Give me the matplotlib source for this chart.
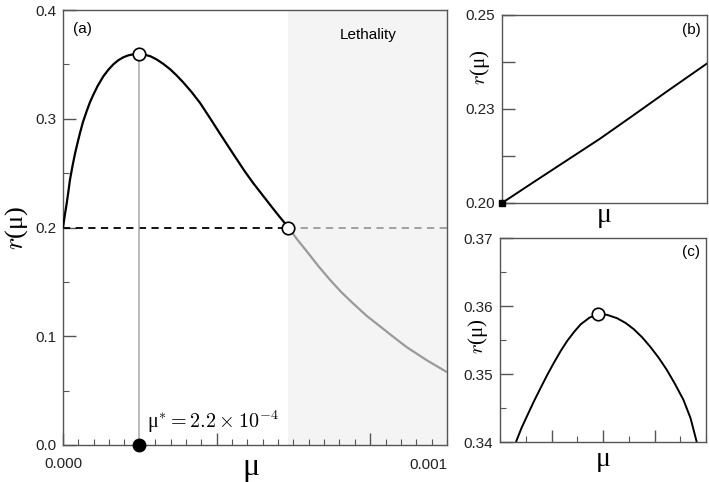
#!/usr/bin/env python3
"""
Growth rate r(mu) against mutation rate mu, with two zoomed insets
(b) near mu = 0 and (c) around the optimum mu*.
"""
import numpy as np
import matplotlib
matplotlib.use("Agg")
import matplotlib.pyplot as plt
from matplotlib.ticker import MultipleLocator

plt.rcParams["font.family"] = ["Liberation Sans", "DejaVu Sans"]
plt.rcParams["mathtext.fontset"] = "cm"

# --- data (mu in units of 1e-6) -------------------------------------------------------------------
# panel (a): viable branch (black) up to the lethality threshold
MU_VIABLE = [0, 2.5, 5, 9.6, 14, 18.2, 25, 31.3, 38, 44.3, 52, 61.7, 70, 78.9, 90, 105, 118,
             131, 144, 157, 170, 184, 198, 212, 228, 244, 261, 279, 296, 313, 335, 357, 383,
             409, 430, 452, 474, 496, 517, 539, 563, 587]
R_VIABLE = [0.200, 0.206, 0.212, 0.222, 0.233, 0.244, 0.257, 0.268, 0.278, 0.287, 0.297, 0.307,
            0.315, 0.322, 0.330, 0.339, 0.345, 0.350, 0.3538, 0.3565, 0.3583, 0.3593, 0.3595,
            0.3590, 0.3574, 0.3545, 0.3505, 0.3455, 0.3398, 0.3335, 0.3245, 0.3145, 0.3005,
            0.2862, 0.2748, 0.2630, 0.2513, 0.2405, 0.2310, 0.2210, 0.2103, 0.200]
# panel (a): branch inside the lethality region (grey)
MU_LETHAL = [587, 610, 635, 665, 695, 725, 756, 790, 826, 860, 895, 947, 1000]
R_LETHAL = [0.200, 0.189, 0.178, 0.1645, 0.152, 0.1405, 0.130, 0.119, 0.109, 0.0995, 0.090,
            0.078, 0.067]

MU_STAR = 198             # optimum
R_STAR = 0.3595
MU_LETHAL_START = 587
R_BASE = 0.2

# panel (b): close-up near mu = 0
MU_B = [0, 2.29, 4.73, 7.17, 9.6, 12.0, 15.0]
R_B = [0.200, 0.2055, 0.2113, 0.2171, 0.2233, 0.2295, 0.2371]

# panel (c): close-up around the optimum
MU_C = [115.5, 121, 126.8, 133, 139.6, 146, 152.5, 159, 165.4, 172, 178.3, 187, 195.4, 204,
        213.7, 222, 229.8, 238, 245.9, 254, 262, 270, 278.1, 285, 291]
R_C = [0.340, 0.3421, 0.3440, 0.3460, 0.3480, 0.3499, 0.3517, 0.3534, 0.3549, 0.3562, 0.3573,
       0.3583, 0.3588, 0.3587, 0.3582, 0.3575, 0.3566, 0.3554, 0.3540, 0.3524, 0.3506, 0.3485,
       0.3462, 0.3435, 0.340]
MU_C_PEAK, R_C_PEAK = 195.4, 0.3588

SCALE = 1e-6

# --- style ---------------------------------------------------------------------------------------
SPINE = "#555555"
GREY = "#9a9a9a"
SHADE = "#f4f4f4"
SERIF = ["Liberation Serif", "DejaVu Serif"]


def mu(vals):
    return np.asarray(vals, dtype=float) * SCALE


def style_axes(ax):
    for s in ax.spines.values():
        s.set_color(SPINE)
        s.set_linewidth(1.0)
    ax.tick_params(which="both", direction="in", colors=SPINE, labelcolor="#222222",
                   labelsize=11, top=False, right=False)
    ax.tick_params(which="major", length=9, width=1.0)
    ax.tick_params(which="minor", length=4, width=0.8)


def ylabel_r(ax, fs):
    ax.set_ylabel("$r$(μ)", fontsize=fs, family=SERIF)


# --- figure --------------------------------------------------------------------------------------
fig = plt.figure(figsize=(7.09, 4.82), dpi=100)
W, H = 709, 482


def px_axes(left, top, right, bottom):
    return fig.add_axes([left / W, 1 - bottom / H, (right - left) / W, (bottom - top) / H])


# panel (a)
ax = px_axes(63, 10, 447, 445)
style_axes(ax)
x_star, x_leth = MU_STAR * SCALE, MU_LETHAL_START * SCALE
ax.axvspan(x_leth, 0.001, color=SHADE, zorder=0, lw=0)
ax.plot([0, x_leth], [R_BASE, R_BASE], color="black", lw=1.3, ls=(0, (4, 3)), zorder=2)
ax.plot([x_leth, 0.001], [R_BASE, R_BASE], color=GREY, lw=1.3, ls=(0, (4, 3)), zorder=2)
ax.plot([x_star, x_star], [0, R_STAR], color="#aaaaaa", lw=1.1, zorder=2)
ax.plot(mu(MU_VIABLE), R_VIABLE, color="black", lw=1.6, zorder=3)
ax.plot(mu(MU_LETHAL), R_LETHAL, color=GREY, lw=1.6, zorder=3)
ax.plot([x_star, x_leth], [R_STAR, R_BASE], ls="none", marker="o", ms=9,
        mfc="white", mec="black", mew=1.2, zorder=5, clip_on=False)
ax.plot([x_star], [0], ls="none", marker="o", ms=9, color="black", zorder=6, clip_on=False)

ax.set_xlim(0, 0.001)
ax.set_ylim(0, 0.4)
ax.set_xticks([0, 0.0004, 0.0008])
ax.set_xticklabels(["0.000", "", ""])
ax.xaxis.set_minor_locator(MultipleLocator(0.00004))
ax.set_yticks([0.0, 0.1, 0.2, 0.3, 0.4])
ax.set_yticklabels(["0.0", "0.1", "0.2", "0.3", "0.4"])
ax.yaxis.set_minor_locator(MultipleLocator(0.05))
ax.tick_params(axis="x", which="both", pad=9)
ax.tick_params(axis="y", which="both", pad=5)
ax.text(0.001, -0.046, "0.001", ha="right", va="center", fontsize=11, color="#222222",
        transform=ax.get_xaxis_transform())
ax.set_xlabel("μ", fontsize=23, family=SERIF)
ax.xaxis.set_label_coords(0.49, -0.018)
ylabel_r(ax, 19)
ax.yaxis.set_label_coords(-0.085, 0.5)
ax.text(0.026, 0.957, "(a)", transform=ax.transAxes, fontsize=11, va="center")
ax.text((x_leth + 0.001) / 2, 0.377, "Lethality", ha="center", va="center", fontsize=11)
ax.text(0.000219, 0.016, "μ$^{*}=2.2\\times10^{-4}$", fontsize=14.5, family=SERIF,
        va="baseline", ha="left")

# panel (b)
axb = px_axes(502, 15, 707, 203)
style_axes(axb)
axb.plot(mu(MU_B), R_B, color="black", lw=1.4)
axb.plot([0], [0.2], ls="none", marker="s", ms=4, color="black", clip_on=False, zorder=5)
axb.set_xlim(0, 1.5e-5)
axb.set_ylim(0.2, 0.25)
axb.set_xticks([])
axb.set_yticks([0.2, 0.2125, 0.225, 0.2375, 0.25])
axb.set_yticklabels(["0.20", "", "0.23", "", "0.25"])
axb.tick_params(axis="y", pad=5)
axb.set_xlabel("μ", fontsize=20, family=SERIF, labelpad=0)
ylabel_r(axb, 15)
axb.yaxis.set_label_coords(-0.05, 0.72)
axb.text(0.97, 0.92, "(b)", transform=axb.transAxes, ha="right", va="center", fontsize=11)

# panel (c)
axc = px_axes(500, 238, 706, 442)
style_axes(axc)
axc.plot(mu(MU_C), R_C, color="black", lw=1.4)
axc.plot([MU_C_PEAK * SCALE], [R_C_PEAK], ls="none", marker="o", ms=9, mfc="white",
         mec="black", mew=1.2, zorder=5)
axc.set_xlim(0.0001, 0.0003)
axc.set_ylim(0.34, 0.37)
axc.set_xticks([0.00015, 0.0002, 0.00025])
axc.set_xticklabels(["", "", ""])
axc.xaxis.set_minor_locator(MultipleLocator(0.000025))
axc.set_yticks([0.34, 0.35, 0.36, 0.37])
axc.set_yticklabels(["0.34", "0.35", "0.36", "0.37"])
axc.yaxis.set_minor_locator(MultipleLocator(0.005))
axc.tick_params(axis="y", which="both", pad=5)
axc.set_xlabel("μ", fontsize=20, family=SERIF, labelpad=0)
ylabel_r(axc, 15)
axc.yaxis.set_label_coords(-0.05, 0.52)
axc.text(0.97, 0.93, "(c)", transform=axc.transAxes, ha="right", va="center", fontsize=11)

fig.savefig("out.png", dpi=100, facecolor="white")
plt.close(fig)
